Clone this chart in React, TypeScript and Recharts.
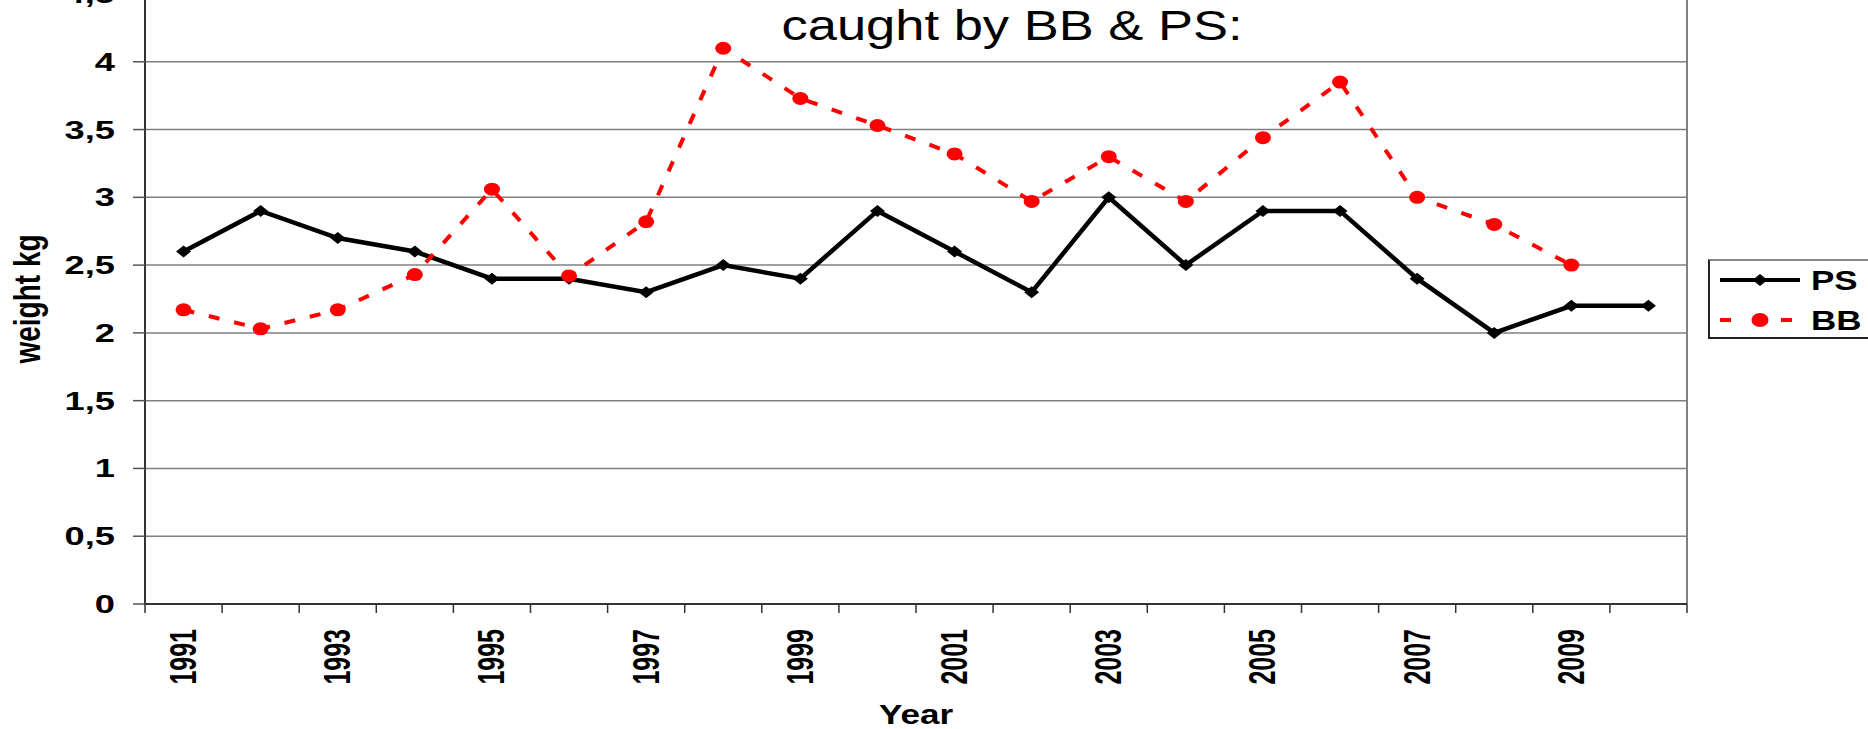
import React from 'react';
import { LineChart, Line, XAxis, YAxis, CartesianGrid, ReferenceLine, Legend } from 'recharts';

const years = [1991, 1992, 1993, 1994, 1995, 1996, 1997, 1998, 1999, 2000, 2001, 2002, 2003, 2004, 2005, 2006, 2007, 2008, 2009, 2010];
const psWeight = [2.6, 2.9, 2.7, 2.6, 2.4, 2.4, 2.3, 2.5, 2.4, 2.9, 2.6, 2.3, 3.0, 2.5, 2.9, 2.9, 2.4, 2.0, 2.2, 2.2];
const bbWeight = [2.17, 2.03, 2.17, 2.43, 3.06, 2.42, 2.82, 4.1, 3.73, 3.53, 3.32, 2.97, 3.3, 2.97, 3.44, 3.85, 3.0, 2.8, 2.5, null];
const yTicks = [0, 0.5, 1, 1.5, 2, 2.5, 3, 3.5, 4, 4.5];
const xLabelYears = [1991, 1993, 1995, 1997, 1999, 2001, 2003, 2005, 2007, 2009];
const seriesNames = { ps: 'PS', bb: 'BB' };
const titleText = 'caught by BB & PS:';
const yAxisTitle = 'weight kg';
const xAxisTitle = 'Year';

const FONT = '"Liberation Sans", Arial, Helvetica, sans-serif';
const X_TICK_SIZE = 9;
const X_TICK_MARGIN = 16;

const data = years.map((year, i) => ({ year, ps: psWeight[i], bb: bbWeight[i] }));
const xBoundaries = years.map((y) => y - 0.5).concat([years[years.length - 1] + 0.5]);
const xTicks = [...xBoundaries, ...xLabelYears].sort((a, b) => a - b);

const XTick = (props: any) => {
  const { x, y, payload } = props;
  const v = payload.value;
  if (!Number.isInteger(v)) {
    return (
      <line x1={x} x2={x} y1={y - X_TICK_MARGIN - X_TICK_SIZE} y2={y - X_TICK_MARGIN} stroke="#333" strokeWidth={1.5} />
    );
  }
  return (
    <text
      transform={`translate(${x - 1},${y}) rotate(-90) scale(1,1.5)`}
      textAnchor="end"
      dy="0.36em"
      fontFamily={FONT}
      fontWeight="bold"
      fontSize={25}
      fill="#000"
    >
      {String(v)}
    </text>
  );
};

const YTick = (props: any) => {
  const { x, y, payload } = props;
  return (
    <g transform={`translate(${x},${y}) scale(1.45,1)`}>
      <text textAnchor="end" dy="0.36em" fontFamily={FONT} fontWeight="bold" fontSize={25} fill="#000">
        {String(payload.value).replace('.', ',')}
      </text>
    </g>
  );
};

const YTitle = (props: any) => {
  const { viewBox } = props;
  const cx = viewBox.x + 27;
  const cy = viewBox.y + viewBox.height / 2;
  return (
    <text
      transform={`translate(${cx},${cy}) rotate(-90) scale(1,1.3)`}
      textAnchor="middle"
      dy="0.36em"
      fontFamily={FONT}
      fontWeight="bold"
      fontSize={28}
      fill="#000"
    >
      {yAxisTitle}
    </text>
  );
};

const XTitle = (props: any) => {
  const { viewBox } = props;
  const cx = viewBox.x + viewBox.width / 2;
  const by = viewBox.y + viewBox.height - 5;
  return (
    <text
      transform={`translate(${cx},${by}) scale(1.3,1)`}
      textAnchor="middle"
      fontFamily={FONT}
      fontWeight="bold"
      fontSize={27}
      fill="#000"
    >
      {xAxisTitle}
    </text>
  );
};

const Diamond = (props: any) => {
  const { cx, cy, index } = props;
  if (cx == null || cy == null) return <g key={`d${index}`} />;
  return <path key={`d${index}`} d={`M${cx - 7.5},${cy} L${cx},${cy - 6} L${cx + 7.5},${cy} L${cx},${cy + 6} Z`} fill="#000" />;
};

const Oval = (props: any) => {
  const { cx, cy, index, value } = props;
  if (cx == null || cy == null || value == null) return <g key={`o${index}`} />;
  return <ellipse key={`o${index}`} cx={cx} cy={cy} rx={8} ry={6.5} fill="#FF0000" />;
};

const LegendBox = (props: any) => {
  const payload = props.payload || [];
  const ps = payload.find((p: any) => p.dataKey === 'ps');
  const bb = payload.find((p: any) => p.dataKey === 'bb');
  return (
    <div style={{ width: 200, height: 80, border: '2px solid #222', borderTopColor: '#888', borderRight: 'none', boxSizing: 'border-box', background: '#fff' }}>
      <svg width={200} height={76} style={{ display: 'block' }}>
        <line x1={10} x2={90} y1={19} y2={19} stroke="#000" strokeWidth={4} />
        <path d="M42.5,19 L50,13 L57.5,19 L50,25 Z" fill="#000" />
        <text transform="translate(101,29) scale(1.25,1)" fontFamily={FONT} fontWeight="bold" fontSize={28} fill="#000">
          {ps ? ps.value : seriesNames.ps}
        </text>
        <line x1={10} x2={21} y1={59} y2={59} stroke="#FF0000" strokeWidth={4} />
        <ellipse cx={50} cy={59} rx={8.5} ry={7} fill="#FF0000" />
        <line x1={71} x2={82} y1={59} y2={59} stroke="#FF0000" strokeWidth={4} />
        <text transform="translate(101,69) scale(1.25,1)" fontFamily={FONT} fontWeight="bold" fontSize={28} fill="#000">
          {bb ? bb.value : seriesNames.bb}
        </text>
      </svg>
    </div>
  );
};

export default function App() {
  return (
    <div style={{ position: 'fixed', left: 0, top: 0, width: 1868, height: 729, overflow: 'hidden', background: '#fff' }}>
      <div style={{ position: 'absolute', left: 0, top: -40 }}>
        <LineChart width={1868} height={769} data={data} margin={{ top: 34, right: 181, bottom: 0, left: 0 }}>
          <CartesianGrid horizontal={true} vertical={false} stroke="#808080" strokeWidth={1.5} />
          <XAxis
            dataKey="year"
            type="number"
            domain={[1990.5, 2010.5]}
            ticks={xTicks}
            interval={0}
            tickLine={false}
            tickSize={X_TICK_SIZE}
            tickMargin={X_TICK_MARGIN}
            height={125}
            axisLine={{ stroke: '#333', strokeWidth: 2 }}
            tick={<XTick />}
            label={<XTitle />}
          />
          <YAxis
            type="number"
            domain={[0, 4.5]}
            ticks={yTicks}
            interval={0}
            width={145}
            tickSize={12}
            tickMargin={18}
            axisLine={{ stroke: '#333', strokeWidth: 2 }}
            tickLine={{ stroke: '#555', strokeWidth: 1.5 }}
            tick={<YTick />}
            label={<YTitle />}
          />
          <ReferenceLine x={2010.5} stroke="#808080" strokeWidth={2} />
          <Legend
            layout="horizontal"
            verticalAlign="middle"
            align="center"
            content={<LegendBox />}
            wrapperStyle={{ position: 'absolute', left: 1708, top: 299, width: 200, height: 80 }}
          />
          <Line
            type="linear"
            dataKey="ps"
            name={seriesNames.ps}
            stroke="#000"
            strokeWidth={4.5}
            dot={Diamond}
            activeDot={false}
            isAnimationActive={false}
          />
          <Line
            type="linear"
            dataKey="bb"
            name={seriesNames.bb}
            stroke="#FF0000"
            strokeWidth={4}
            strokeDasharray="11 15"
            dot={Oval}
            activeDot={false}
            isAnimationActive={false}
          />
        </LineChart>
      </div>
      <svg width={1868} height={60} style={{ position: 'absolute', left: 0, top: 0, pointerEvents: 'none' }}>
        <text transform="translate(1012,40) scale(1.25,1)" textAnchor="middle" fontFamily={FONT} fontSize={42} fill="#000">
          {titleText}
        </text>
      </svg>
    </div>
  );
}
